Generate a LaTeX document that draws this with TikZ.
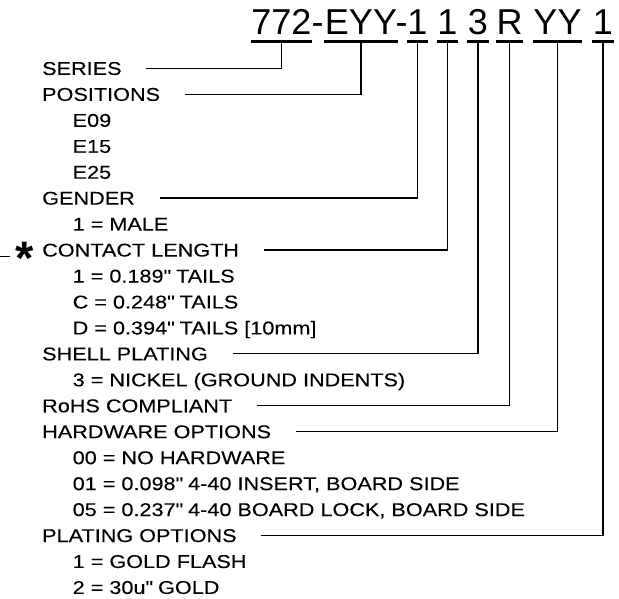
\documentclass[tikz,border=0pt]{standalone}
\usepackage{fontspec}
\setmainfont[FakeStretch=1.17, FakeBold=0.1]{Liberation Sans}
\newfontfamily\codefont{Liberation Sans}
\usetikzlibrary{positioning}

\begin{document}
\begin{tikzpicture}[x=1bp, y=-1bp, line width=1.4bp,
    head/.style = {anchor=west, inner sep=0pt, text height=13.2bp, text depth=0pt, font=\fontsize{18.5bp}{21bp}\selectfont},
    code/.style = {anchor=base, inner sep=0pt, text height=26bp, text depth=5.8bp, font=\codefont\fontsize{36bp}{40bp}\selectfont},
    uline/.style = {line width=2.8bp}]

      \useasboundingbox (0,0) rectangle (619,599);

      % Part number
      \node[code, minimum width=57bp] (c-series) at (281.4,35) {772};
      \node[code] (d1) at (317.5,35) {-};
      \node[code, minimum width=68bp] (c-pos) at (361,35) {EYY};
      \node[code] (d2) at (401.7,35) {-};
      \node[code, minimum width=15bp] (c-gen) at (417.5,35) {1};
      \node[code, minimum width=15bp] (c-len) at (447.5,35) {1};
      \node[code, minimum width=18bp] (c-shell) at (478,35) {3};
      \node[code, minimum width=16bp] (c-rohs) at (509.5,35) {R};
      \node[code, minimum width=46bp] (c-hw) at (557.5,35) {YY};
      \node[code, minimum width=13bp] (c-plat) at (603,35) {1};

      \draw[uline] (c-series.south west) -- (c-series.south east)
                   (c-pos.south west) -- (c-pos.south east)
                   (c-gen.south west) -- (c-gen.south east)
                   (c-len.south west) -- (c-len.south east)
                   (c-shell.south west) -- (c-shell.south east)
                   (c-rohs.south west) -- (c-rohs.south east)
                   (c-hw.south west) -- (c-hw.south east)
                   (c-plat.south west) -- (c-plat.south east);

      % Legend
      \node[head] (series) at (41.5,68.3) {SERIES};
      \node[head] (positions) at (41.5,94.25) {POSITIONS};
      \node[head] (e09) at (72,120.2) {E09};
      \node[head] (e15) at (72,146.15) {E15};
      \node[head] (e25) at (72,172.1) {E25};
      \node[head] (gender) at (41.5,198.05) {GENDER};
      \node[head] (male) at (72,224) {1 = MALE};
      \node[head] (length) at (41.5,249.95) {CONTACT LENGTH};
      \node[head] (len1) at (72,275.9) {1 = 0.189\textquotedbl{} TAILS};
      \node[head] (lenC) at (72,301.85) {C = 0.248\textquotedbl{} TAILS};
      \node[head] (lenD) at (72,327.8) {D = 0.394\textquotedbl{} TAILS [10mm]};
      \node[head] (shell) at (41.5,353.75) {SHELL PLATING};
      \node[head] (nickel) at (72,379.7) {3 = NICKEL (GROUND INDENTS)};
      \node[head] (rohs) at (41.5,405.65) {RoHS COMPLIANT};
      \node[head] (hardware) at (41.5,431.6) {HARDWARE OPTIONS};
      \node[head] (hw00) at (72,457.55) {00 = NO HARDWARE};
      \node[head] (hw01) at (72,483.5) {01 = 0.098\textquotedbl{} 4-40 INSERT, BOARD SIDE};
      \node[head] (hw05) at (72,509.45) {05 = 0.237\textquotedbl{} 4-40 BOARD LOCK, BOARD SIDE};
      \node[head] (plating) at (41.5,535.4) {PLATING OPTIONS};
      \node[head] (flash) at (72,561.35) {1 = GOLD FLASH};
      \node[head] (gold) at (72,587.3) {2 = 30u\textquotedbl{} GOLD};

      % Note mark
      \node[anchor=base, inner sep=0pt, font=\codefont\bfseries\fontsize{47bp}{47bp}\selectfont] (star) at (24.5,274.5) {*};
      \coordinate (edge) at (0,256.5);
      \draw (edge) -- ++(10,0);

      % Leaders
      \draw (c-series.south) |- ([xshift=24bp]series.east);
      \draw (c-pos.south) |- ([xshift=24bp]positions.east);
      \draw (c-gen.south) |- ([xshift=24bp]gender.east);
      \draw (c-len.south) |- ([xshift=24bp]length.east);
      \draw (c-shell.south) |- ([xshift=24bp]shell.east);
      \draw (c-rohs.south) |- ([xshift=24bp]rohs.east);
      \draw (c-hw.south) |- ([xshift=24bp]hardware.east);
      \draw (c-plat.south) |- ([xshift=24bp]plating.east);

    \end{tikzpicture}
\end{document}
